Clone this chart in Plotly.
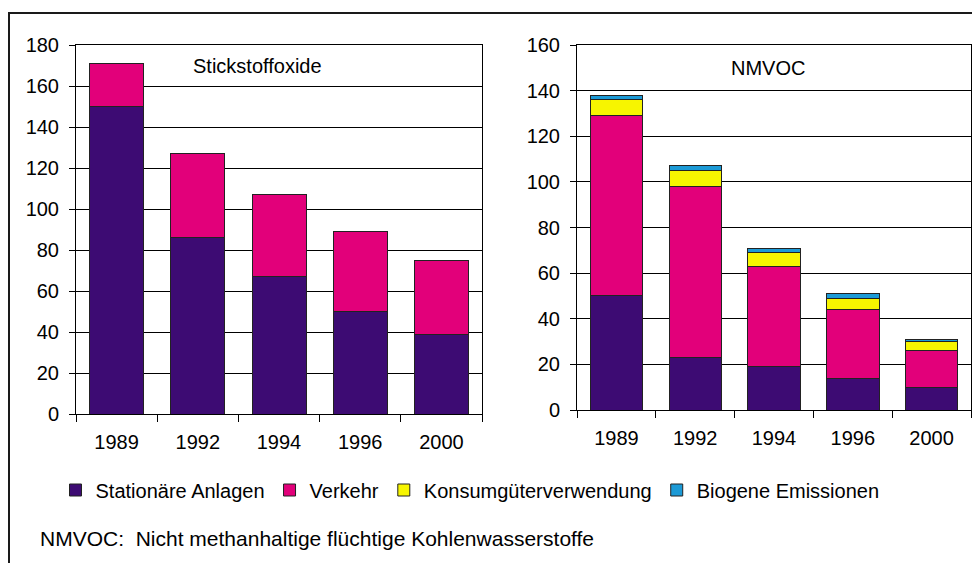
import plotly.graph_objects as go

years = ["1989", "1992", "1994", "1996", "2000"]

nox_stationaer = [150, 86, 67, 50, 39]
nox_verkehr = [21, 41, 40, 39, 36]

voc_stationaer = [50, 23, 19, 14, 10]
voc_verkehr = [79, 75, 44, 30, 16]
voc_konsum = [7, 7, 6, 5, 4]
voc_biogen = [2, 2, 2, 2, 1]

series_names = ["Stationäre Anlagen", "Verkehr", "Konsumgüterverwendung", "Biogene Emissionen"]
colors = ["#3D0B73", "#E2007A", "#F7F500", "#1C9AD6"]

# page body has an 8px margin; figure sized to the visible window area
OFF = 8
W, H = 980 - OFF, 563 - OFF
FONT = "Liberation Sans, Arial, sans-serif"

fig = go.Figure()

line = dict(color="#222222", width=1)

for vals, name, col in [(nox_stationaer, series_names[0], colors[0]),
                        (nox_verkehr, series_names[1], colors[1])]:
    fig.add_trace(go.Bar(x=years, y=vals, name=name, marker=dict(color=col, line=line),
                         legendgroup=name, showlegend=False, xaxis="x", yaxis="y"))

for vals, name, col in zip([voc_stationaer, voc_verkehr, voc_konsum, voc_biogen], series_names, colors):
    fig.add_trace(go.Bar(x=years, y=vals, name=name, marker=dict(color=col, line=line),
                         legendgroup=name, showlegend=True, xaxis="x2", yaxis="y2"))

def px_x(p):
    return (p - OFF) / W

def px_y(p):
    return (H - (p - OFF)) / H

axis_common = dict(
    showline=True, linecolor="black", linewidth=1, mirror=True,
    tickfont=dict(family=FONT, size=20, color="black"),
    ticks="outside", tickcolor="black", ticklen=6,
    zeroline=False, automargin=False,
)

xcommon = dict(axis_common, type="category", tickson="boundaries", showgrid=False,
               ticklen=7, ticklabelstandoff=10)
ycommon = dict(axis_common, showgrid=True, gridcolor="black", gridwidth=1,
               ticklabelstandoff=6)

fig.update_layout(
    width=W, height=H,
    template="none",
    paper_bgcolor="white", plot_bgcolor="white",
    margin=dict(l=0, r=0, t=0, b=0),
    barmode="stack", bargap=0.335,
    font=dict(family=FONT, size=20, color="black"),
    xaxis=dict(xcommon, domain=[px_x(76), px_x(482)], anchor="y"),
    yaxis=dict(ycommon, domain=[px_y(414), px_y(45)], range=[0, 180], dtick=20, anchor="x"),
    xaxis2=dict(xcommon, domain=[px_x(577), px_x(971)], anchor="y2"),
    yaxis2=dict(ycommon, domain=[px_y(410), px_y(45)], range=[0, 160], dtick=20, anchor="x2"),
    legend=dict(orientation="h", x=px_x(470), xanchor="center", y=px_y(490), yanchor="middle",
                traceorder="normal", font=dict(family=FONT, size=20, color="black"),
                bgcolor="rgba(0,0,0,0)", itemwidth=30, tracegroupgap=0),
    showlegend=True,
)

fig.add_annotation(text="Stickstoffoxide", xref="paper", yref="paper",
                   x=px_x(257), y=px_y(66), xanchor="center", yanchor="middle",
                   showarrow=False, font=dict(family=FONT, size=20, color="black"))
fig.add_annotation(text="NMVOC", xref="paper", yref="paper",
                   x=px_x(768), y=px_y(68), xanchor="center", yanchor="middle",
                   showarrow=False, font=dict(family=FONT, size=20, color="black"))
fig.add_annotation(text="NMVOC:\u00a0 Nicht methanhaltige flüchtige Kohlenwasserstoffe",
                   xref="paper", yref="paper", x=px_x(38), y=px_y(538),
                   xanchor="left", yanchor="middle", showarrow=False,
                   font=dict(family=FONT, size=21, color="black"))

fig.add_shape(type="rect", xref="paper", yref="paper",
              x0=px_x(9), x1=1.02, y0=-0.02, y1=px_y(13),
              line=dict(color="#1a1a1a", width=2), fillcolor="rgba(0,0,0,0)", layer="below")

fig.write_html("out.html")
